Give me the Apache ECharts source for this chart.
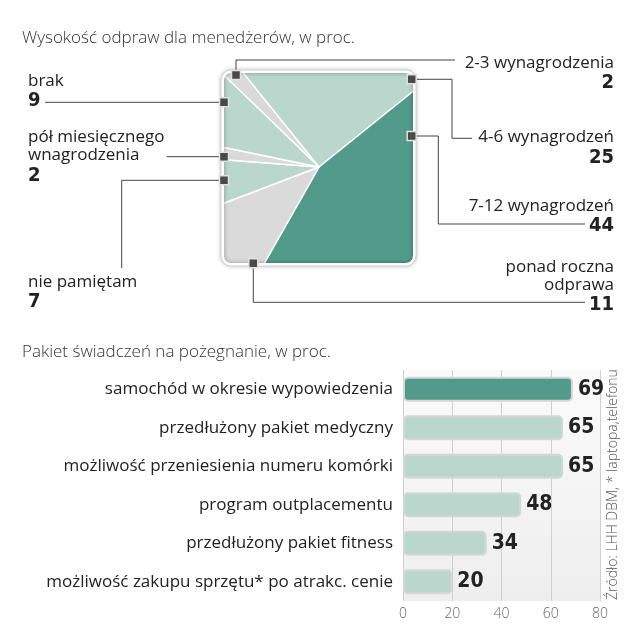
<!DOCTYPE html>
<html><head><meta charset="utf-8">
<script src="https://cdn.jsdelivr.net/npm/echarts@6/dist/echarts.min.js"></script>
<style>html,body{margin:0;padding:0;background:#fff}#c{width:640px;height:640px}</style>
</head><body><div id="c"></div>
<script>
// ---- data ----
const pieTitle = 'Wysokość odpraw dla menedżerów, w proc.';
const pieCategories = ['2-3 wynagrodzenia', '4-6 wynagrodzeń', '7-12 wynagrodzeń', 'ponad roczna\nodprawa', 'nie pamiętam', 'pół miesięcznego\nwnagrodzenia', 'brak'];
const pieValues = [2, 25, 44, 11, 7, 2, 9];
const barTitle = 'Pakiet świadczeń na pożegnanie, w proc.';
const barCategories = ['samochód w okresie wypowiedzenia', 'przedłużony pakiet medyczny', 'możliwość przeniesienia numeru komórki', 'program outplacementu', 'przedłużony pakiet fitness', 'możliwość zakupu sprzętu* po atrakc. cenie'];
const barValues = [69, 65, 65, 48, 34, 20];
const xTickMin = 0, xTickMax = 80, xTickStep = 20;
const sourceText = 'Źródło: LHH DBM, * laptopa,telefonu';

// ---- style ----
const DARK = '#529b8a', LIGHT = '#b9d7cd', GREY = '#dadada';
const pieColors = [GREY, LIGHT, DARK, GREY, LIGHT, GREY, LIGHT];
const FONT = '"Open Sans", Roboto, sans-serif';
const NUMFONT = '"DejaVu Sans Condensed", "DejaVu Sans", sans-serif';
const SQ = {x: 224, y: 73, w: 189, h: 190, r: 7};
const PIE_C = [319, 167];
// callout layout: text anchor, align, leader line points (annotation only)
const callouts = [
  {tx: 614, ty: 53.7, align: 'right', line: [[236, 75], [236, 60], [455, 60]]},
  {tx: 614, ty: 128.3, align: 'right', line: [[411.7, 79.3], [452, 79.3], [452, 138.3], [472, 138.3]]},
  {tx: 614, ty: 197, align: 'right', line: [[411.7, 136], [438.3, 136], [438.3, 224], [585, 224]]},
  {tx: 614, ty: 257.7, align: 'right', line: [[253.3, 263.3], [253.3, 302.3], [585, 302.3]]},
  {tx: 28, ty: 272.7, align: 'left', line: [[224, 180.3], [121.7, 180.3], [121.7, 268.3]]},
  {tx: 28, ty: 128.3, align: 'left', line: [[224, 156.7], [166.7, 156.7]]},
  {tx: 28, ty: 71.7, align: 'left', line: [[224, 102.3], [45, 102.3]]}
];

const graphics = [];
// mask outside rounded square (thick white stroke whose inner edge is the rounded square)
const W = 60;
graphics.push({type: 'rect', z: 10, silent: true,
  shape: {x: SQ.x - W / 2, y: SQ.y - W / 2, width: SQ.w + W, height: SQ.h + W, r: SQ.r + W / 2},
  style: {fill: 'none', stroke: '#fff', lineWidth: W}});
// border
graphics.push({type: 'rect', z: 11, silent: true,
  shape: {x: SQ.x - 1.5, y: SQ.y - 1.5, width: SQ.w + 3, height: SQ.h + 3, r: SQ.r + 1.5},
  style: {fill: 'none', stroke: '#fff', lineWidth: 3, shadowColor: 'rgba(0,0,0,0.35)', shadowBlur: 4}});
graphics.push({type: 'rect', z: 11, silent: true,
  shape: {x: SQ.x - 3, y: SQ.y - 3, width: SQ.w + 6, height: SQ.h + 6, r: SQ.r + 3},
  style: {fill: 'none', stroke: '#d2d2d2', lineWidth: 1}});

callouts.forEach((c, i) => {
  graphics.push({type: 'polyline', z: 12, silent: true, shape: {points: c.line},
    style: {stroke: '#444', lineWidth: 1, fill: 'none'}});
  const a = c.line[0];
  graphics.push({type: 'rect', z: 13, silent: true, shape: {x: a[0] - 4.5, y: a[1] - 4.5, width: 9, height: 9},
    style: {fill: '#4a4a4a', stroke: '#e2e2e2', lineWidth: 1.5}});
  graphics.push({type: 'text', z: 14, silent: true, x: c.tx, y: c.ty,
    style: {text: '{n|' + pieCategories[i].split('\n').join('}\n{n|') + '}\n{v|' + pieValues[i] + '}',
      align: c.align, verticalAlign: 'top',
      rich: {
        n: {fontFamily: FONT, fontSize: 17, lineHeight: 18, fill: '#222', align: c.align},
        v: {fontFamily: NUMFONT, fontWeight: 'bold', fontSize: 20, lineHeight: 22, fill: '#222', align: c.align}
      }}});
});

graphics.push({type: 'text', z: 14, silent: true, x: 22, y: 38,
  style: {text: pieTitle, fontFamily: FONT, fontWeight: 300, fontSize: 17, fill: '#333', verticalAlign: 'middle'}});
graphics.push({type: 'text', z: 14, silent: true, x: 22, y: 352,
  style: {text: barTitle, fontFamily: FONT, fontWeight: 300, fontSize: 17, fill: '#333', verticalAlign: 'middle'}});
graphics.push({type: 'text', z: 14, silent: true, x: 613, y: 600, rotation: Math.PI / 2,
  style: {text: sourceText, fontFamily: FONT, fontWeight: 300, fontSize: 14, fill: '#555', align: 'left', verticalAlign: 'middle'}});

const chart = echarts.init(document.getElementById('c'), null, {renderer: 'canvas'});
chart.setOption({
  animation: false,
  backgroundColor: '#fff',
  graphic: {elements: graphics},
  grid: {left: 403, right: 40, top: 370, bottom: 39, show: true, borderWidth: 0,
    backgroundColor: new echarts.graphic.LinearGradient(0, 0, 0, 1, [{offset: 0, color: '#fbfbfb'}, {offset: 1, color: '#eeeeee'}])},
  xAxis: {type: 'value', min: xTickMin, max: xTickMax, interval: xTickStep,
    axisLine: {show: false}, axisTick: {show: false},
    splitLine: {show: true, lineStyle: {color: '#cfcfcf', width: 1}},
    axisLabel: {color: '#666', fontFamily: FONT, fontWeight: 300, fontSize: 14, margin: 6}},
  yAxis: {type: 'category', data: barCategories, inverse: true,
    axisLine: {show: false}, axisTick: {show: false},
    axisLabel: {color: '#222', fontFamily: FONT, fontSize: 17, margin: 10}},
  series: [
    {type: 'pie', silent: true, center: PIE_C, radius: 140, startAngle: 136, clockwise: true,
      label: {show: false}, labelLine: {show: false}, emphasis: {disabled: true},
      itemStyle: {borderColor: '#fff', borderWidth: 1.5},
      data: pieValues.map((v, i) => ({value: v, name: pieCategories[i], itemStyle: {color: pieColors[i]}}))},
    {type: 'bar', silent: true, data: barValues, barWidth: 25,
      itemStyle: {color: p => p.dataIndex === 0 ? DARK : LIGHT, borderColor: '#d6d6d6', borderWidth: 2, borderRadius: 4},
      label: {show: true, position: 'right', distance: 5, fontFamily: NUMFONT, fontWeight: 'bold', fontSize: 21, color: '#222'}}
  ]
});
</script>
</body></html>
